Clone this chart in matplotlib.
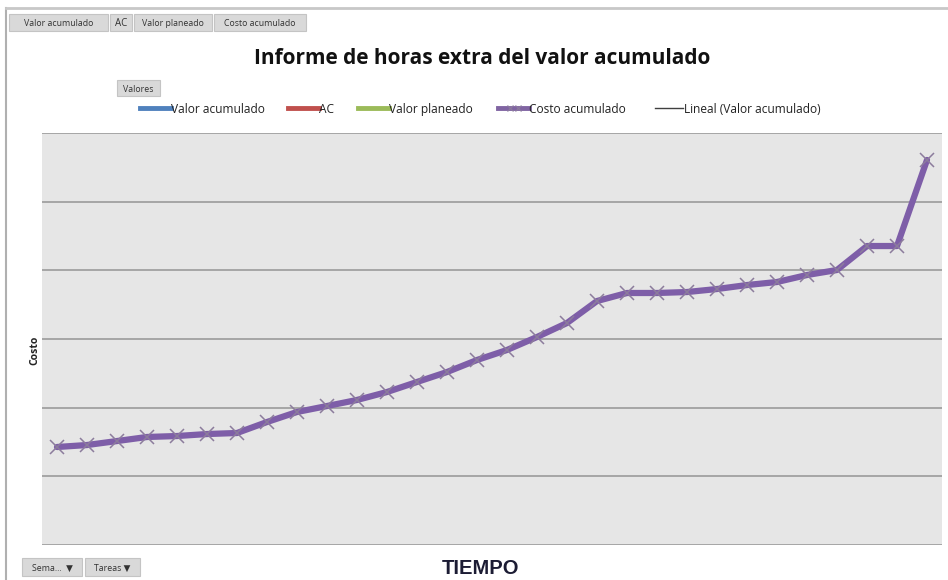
import matplotlib
matplotlib.use("Agg")
import matplotlib.pyplot as plt
from matplotlib.patches import Rectangle
from matplotlib.lines import Line2D

# ---- data ----
periods = list(range(1, 31))
costo_acumulado = [142.7, 145.6, 151.4, 157.3, 158.7, 161.6, 163.1, 179.1, 193.7, 202.4,
                   211.2, 222.8, 237.4, 251.9, 269.4, 284.0, 302.9, 323.3, 355.3, 367.0,
                   367.0, 368.4, 372.8, 378.6, 383.0, 393.2, 400.5, 435.4, 435.4, 560.7]
y_ticks = [0, 100, 200, 300, 400, 500, 600]
field_buttons = ["Valor acumulado", "AC", "Valor planeado", "Costo acumulado"]
legend_items = ["Valor acumulado", "AC", "Valor planeado", "Costo acumulado", "Lineal (Valor acumulado)"]
legend_colors = ["#4F81BD", "#C0504D", "#9BBB59", "#8064A2", "#404040"]
axis_buttons = ["Sema...", "Tareas"]

W, H = 948, 580
fig = plt.figure(figsize=(W / 100, H / 100), dpi=100)
fig.patch.set_facecolor("white")
FAM = ["Open Sans", "DejaVu Sans"]

def fx(px):
    return px / W

def fy(py):
    return 1 - py / H

# outer frame
fig.add_artist(Line2D([fx(6), fx(6)], [fy(8), fy(580)], color="#b0b0b0", lw=1.5))
fig.add_artist(Line2D([fx(6), fx(948)], [fy(8), fy(8)], color="#c8c8c8", lw=2.0))

# plot area
left, right, top, bottom = 42, 942, 133, 545
ax = fig.add_axes([fx(left), fy(bottom), fx(right - left), (bottom - top) / H])
ax.set_facecolor("#e6e6e6")
ax.set_xlim(0.5, len(periods) + 0.5)
ax.set_ylim(y_ticks[0], y_ticks[-1])
ax.set_yticks(y_ticks)
ax.yaxis.grid(True, color="#a6a6a6", lw=1.4)
ax.set_axisbelow(True)
ax.set_xticks([])
ax.tick_params(axis="y", length=0, labelleft=False)
for s in ax.spines.values():
    s.set_visible(False)

ax.plot(periods, costo_acumulado, color="#7E5EA8", lw=4.5, solid_capstyle="round",
        solid_joinstyle="round", zorder=3)
ax.plot(periods, costo_acumulado, ls="none", marker="x", ms=10, mew=1.1,
        color="#8c7c9c", zorder=4)

# title
fig.text(fx(482), fy(58), "Informe de horas extra del valor acumulado", ha="center",
         va="center", fontsize=15, fontweight="bold", family=FAM, color="#111111")

# axis titles
fig.text(fx(35), fy(350), "Costo", rotation=90, ha="center", va="center", fontsize=7.5,
         fontweight="bold", family=FAM, color="#222222")
fig.text(fx(481), fy(568), "TIEMPO", ha="center", va="center", fontsize=14.5,
         fontweight="bold", family="Liberation Sans", color="#1c1c34")

# field buttons
def button(x0, x1, y0, y1, text, fs=6.3):
    fig.add_artist(Rectangle((fx(x0), fy(y1)), fx(x1 - x0), (y1 - y0) / H,
                             facecolor="#d9d9d9", edgecolor="#c4c4c4", lw=0.8))
    fig.text(fx((x0 + x1) / 2), fy((y0 + y1) / 2), text, ha="center", va="center_baseline",
             fontsize=fs, family=FAM, color="#333333")

btn_pos = [(9, 108), (110, 132), (134, 212), (214, 306)]
for (x0, x1), t in zip(btn_pos, field_buttons):
    button(x0, x1, 14, 31, t, fs=6.3 if t != "AC" else 7)
button(117, 160, 80, 96, "Valores", fs=6.3)
button(22, 82, 558, 576, axis_buttons[0] + "  \u25bc", fs=6.3)
button(85, 140, 558, 576, axis_buttons[1] + " \u25bc", fs=6.3)

# legend
leg_x = [140, 288, 358, 498, 655]
leg_y = 108
for i, (x, t, c) in enumerate(zip(leg_x, legend_items, legend_colors)):
    if i < 4:
        fig.add_artist(Line2D([fx(x), fx(x + 31)], [fy(leg_y), fy(leg_y)], color=c, lw=3.5))
        if i == 3:
            fig.add_artist(Line2D([fx(x + 12), fx(x + 20)], [fy(leg_y), fy(leg_y)],
                                  color="#8c7c9c", ls="none", marker="x", ms=5, mew=0.8))
        tx = x + 31
    else:
        fig.add_artist(Line2D([fx(x), fx(x + 28)], [fy(leg_y), fy(leg_y)], color=c, lw=1))
        tx = x + 29
    fig.text(fx(tx), fy(leg_y), t, ha="left", va="center_baseline", fontsize=8.6,
             family=FAM, color="#222222")

fig.savefig("out.png", dpi=100)
